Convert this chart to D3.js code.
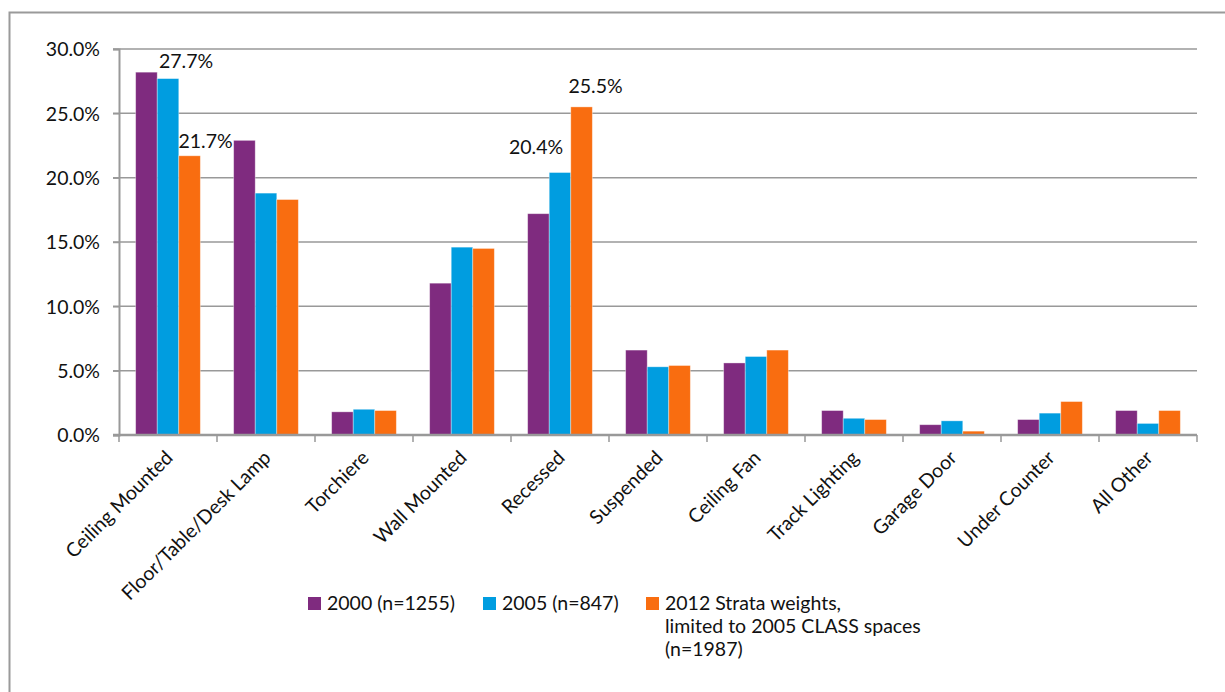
<!DOCTYPE html>
<html>
<head>
<meta charset="utf-8">
<script src="https://cdn.jsdelivr.net/npm/d3@7"></script>
<style>
  body { margin: 0; background: #fff; }
  text { font-family: Lato, "Open Sans", sans-serif; fill: #111; }
</style>
</head>
<body>
<div id="chart"></div>
<script>
// Data
const categories = ["Ceiling Mounted", "Floor/Table/Desk Lamp", "Torchiere", "Wall Mounted", "Recessed",
  "Suspended", "Ceiling Fan", "Track Lighting", "Garage Door", "Under Counter", "All Other"];
const seriesNames = ["2000 (n=1255)", "2005 (n=847)", "2012 Strata weights, limited to 2005 CLASS spaces (n=1987)"];
const values2000 = [28.2, 22.9, 1.8, 11.8, 17.2, 6.6, 5.6, 1.9, 0.8, 1.2, 1.9];
const values2005 = [27.7, 18.8, 2.0, 14.6, 20.4, 5.3, 6.1, 1.3, 1.1, 1.7, 0.9];
const values2012 = [21.7, 18.3, 1.9, 14.5, 25.5, 5.4, 6.6, 1.2, 0.3, 2.6, 1.9];
const yTicks = [0, 5, 10, 15, 20, 25, 30];
// labelled bars: [category index, series index]
const labelled = [[0, 1], [0, 2], [4, 1], [4, 2]];

const colors = ["#7f2b7f", "#009de0", "#f96d10"];
const allSeries = [values2000, values2005, values2012];

const W = 1225, H = 692;
const margin = { top: 49, right: 28, bottom: 257, left: 119 };
const width = W - margin.left - margin.right;
const height = H - margin.top - margin.bottom;

const root = d3.select("#chart").append("svg")
  .attr("width", W).attr("height", H);

// outer frame
root.append("path")
  .attr("d", `M9.5,${H} V12.5 H${W}`)
  .attr("fill", "none").attr("stroke", "#9a9a9a").attr("stroke-width", 2);

const svg = root.append("g")
  .attr("transform", `translate(${margin.left},${margin.top})`);

const x0 = d3.scaleBand().domain(categories).range([0, width])
  .paddingInner(0.34).paddingOuter(0.17);
const x1 = d3.scaleBand().domain([0, 1, 2]).range([0, x0.bandwidth()]);
const y = d3.scaleLinear().domain([0, 30]).range([height, 0]);

// gridlines
svg.append("g").selectAll("line")
  .data(yTicks.slice(1))
  .enter().append("line")
  .attr("x1", -6).attr("x2", width)
  .attr("y1", d => y(d)).attr("y2", d => y(d))
  .attr("stroke", "#999").attr("stroke-width", 1.5);

// y axis
const yAxis = svg.append("g")
  .call(d3.axisLeft(y).tickValues(yTicks).tickSize(6).tickPadding(13)
    .tickFormat(d => d.toFixed(1) + "%"));
yAxis.select(".domain").attr("stroke", "#999").attr("stroke-width", 2);
yAxis.selectAll(".tick line").attr("stroke", "#999").attr("stroke-width", 1.5);
yAxis.selectAll(".tick text").style("font-size", "19.5px").attr("fill", "#111").attr("dy", "0.35em");

// bars
const groups = svg.append("g").selectAll("g")
  .data(categories)
  .enter().append("g")
  .attr("transform", d => `translate(${x0(d)},0)`);

groups.selectAll("rect")
  .data((d, i) => allSeries.map((s, k) => ({ k, v: s[i] })))
  .enter().append("rect")
  .attr("x", d => x1(d.k))
  .attr("y", d => y(d.v))
  .attr("width", x1.bandwidth())
  .attr("height", d => y(0) - y(d.v))
  .attr("fill", d => colors[d.k])
  .attr("stroke", "rgba(255,255,255,0.45)")
  .attr("stroke-width", 0.8);

// x axis
const step = x0.step();
const xAxis = svg.append("g").attr("transform", `translate(0,${height})`);
xAxis.append("line").attr("x1", -6).attr("x2", width)
  .attr("stroke", "#999").attr("stroke-width", 2.5);
xAxis.selectAll(".xt")
  .data(d3.range(categories.length + 1))
  .enter().append("line")
  .attr("x1", i => i * step).attr("x2", i => i * step)
  .attr("y1", 0).attr("y2", 7)
  .attr("stroke", "#999").attr("stroke-width", 1.5);
xAxis.selectAll(".xl")
  .data(categories)
  .enter().append("text")
  .attr("text-anchor", "end")
  .attr("transform", d => `translate(${x0(d) + x0.bandwidth() / 2 + 6},24) rotate(-45)`)
  .style("font-size", "19.5px")
  .text(d => d);

// data labels (Excel-style manual placement)
const labelOffset = { "0,1": [18, -11], "0,2": [16, -8], "4,1": [-24, -19], "4,2": [14, -14] };
svg.append("g").selectAll("text")
  .data(labelled)
  .enter().append("text")
  .attr("text-anchor", "middle")
  .attr("x", d => x0(categories[d[0]]) + x1(d[1]) + x1.bandwidth() / 2 + labelOffset[d.join(",")][0])
  .attr("y", d => y(allSeries[d[1]][d[0]]) + labelOffset[d.join(",")][1])
  .style("font-size", "19.5px")
  .text(d => allSeries[d[1]][d[0]].toFixed(1) + "%");

// legend
const legend = root.append("g").attr("transform", "translate(308,597)");
const legendX = [0, 175, 338];
const legendLines = [[seriesNames[0]], [seriesNames[1]],
  ["2012 Strata weights,", "limited to 2005 CLASS spaces", "(n=1987)"]];
legendLines.forEach((lines, k) => {
  const g = legend.append("g").attr("transform", `translate(${legendX[k]},0)`);
  g.append("rect").attr("width", 13).attr("height", 13).attr("fill", colors[k]);
  lines.forEach((t, j) => {
    g.append("text").attr("x", 19).attr("y", 13 + j * 23)
      .style("font-size", "19.5px").text(t);
  });
});
</script>
</body>
</html>
